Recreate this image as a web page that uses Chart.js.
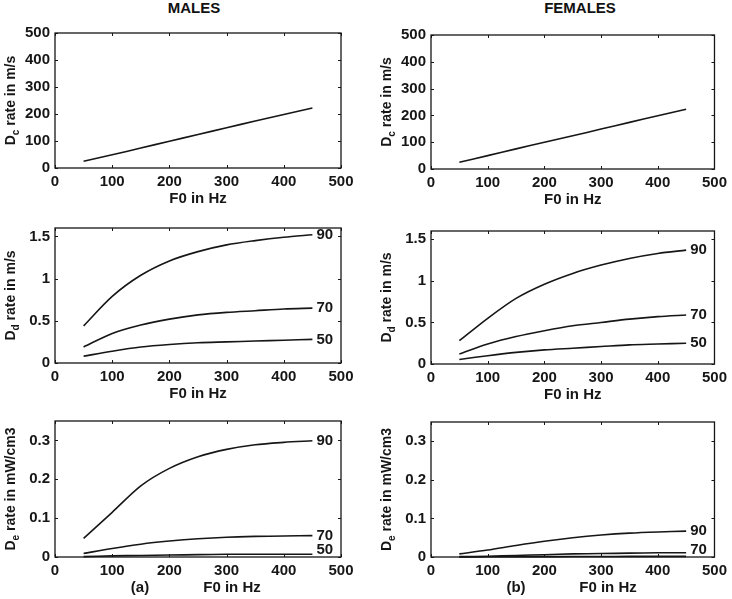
<!DOCTYPE html>
<html>
<head>
<meta charset="utf-8">
<script src="https://cdn.jsdelivr.net/npm/chart.js@4.4.1/dist/chart.umd.min.js"></script>
<style>
  html,body{margin:0;padding:0;background:#fff;}
  #wrap{position:relative;width:732px;height:599px;overflow:hidden;background:#fff;}
  canvas{position:absolute;left:0;top:0;}
  .hdr{position:absolute;top:0;font:bold 15px "Liberation Sans",Arial,sans-serif;color:#111;transform:translateX(-50%);white-space:nowrap;line-height:16px;}
</style>
</head>
<body>
<div id="wrap">
  <div class="hdr" style="left:194px">MALES</div>
  <div class="hdr" style="left:580px">FEMALES</div>
</div>
<script>
// ---------- data ----------
const F0 = [50, 100, 150, 200, 250, 300, 350, 400, 450];
const xTicks = [0, 100, 200, 300, 400, 500];
const dcTicks = [0, 100, 200, 300, 400, 500];
const ddTicks = [0, 0.5, 1, 1.5];
const deTicks = [0, 0.1, 0.2, 0.3];
const curveLabels = ['90', '70', '50'];

const maleDc   = [25, 49, 74, 99, 124, 149, 174, 198, 222];
const femaleDc = [25, 50, 75, 100, 124, 149, 174, 199, 223];

const maleDd90 = [0.44, 0.79, 1.04, 1.21, 1.32, 1.40, 1.45, 1.49, 1.52];
const maleDd70 = [0.19, 0.35, 0.45, 0.52, 0.57, 0.60, 0.62, 0.64, 0.65];
const maleDd50 = [0.08, 0.14, 0.19, 0.22, 0.24, 0.25, 0.26, 0.27, 0.28];

const femaleDd90 = [0.28, 0.55, 0.79, 0.96, 1.09, 1.19, 1.27, 1.33, 1.37];
const femaleDd70 = [0.12, 0.24, 0.33, 0.40, 0.46, 0.50, 0.54, 0.57, 0.59];
const femaleDd50 = [0.055, 0.10, 0.14, 0.17, 0.19, 0.21, 0.23, 0.24, 0.25];

const maleDe90 = [0.048, 0.115, 0.183, 0.228, 0.258, 0.277, 0.289, 0.295, 0.299];
const maleDe70 = [0.009, 0.022, 0.033, 0.041, 0.047, 0.051, 0.053, 0.054, 0.055];
const maleDe50 = [0.001, 0.003, 0.004, 0.005, 0.006, 0.007, 0.007, 0.007, 0.007];

const femaleDe90 = [0.008, 0.018, 0.030, 0.041, 0.050, 0.057, 0.062, 0.065, 0.067];
const femaleDe70 = [0.001, 0.002, 0.004, 0.006, 0.008, 0.009, 0.010, 0.011, 0.011];
const femaleDe50 = [0.0003, 0.0005, 0.0008, 0.001, 0.0012, 0.0014, 0.0015, 0.0016, 0.0017];

// ---------- layout ----------
const W = 732, H = 599, Y_AXIS_W = 50, X_AXIS_H = 30;
const FONT = '"Liberation Sans", Arial, sans-serif';
const INK = '#161616';

const panels = [
  {rect:[55,33,341,168],  ymax:500,  yTicks:dcTicks, sub:'c', series:[maleDc], labels:[]},
  {rect:[431,35,718,169], ymax:500,  yTicks:dcTicks, sub:'c', series:[femaleDc], labels:[]},
  {rect:[55,228,341,363], ymax:1.6,  yTicks:ddTicks, sub:'d', series:[maleDd90, maleDd70, maleDd50], labels:curveLabels},
  {rect:[431,231,718,364],ymax:1.6,  yTicks:ddTicks, sub:'d', series:[femaleDd90, femaleDd70, femaleDd50], labels:curveLabels},
  {rect:[55,421,341,557], ymax:0.35, yTicks:deTicks, sub:'e', series:[maleDe90, maleDe70, maleDe50], labels:curveLabels, tag:'(a)'},
  {rect:[431,422,718,557],ymax:0.35, yTicks:deTicks, sub:'e', series:[femaleDe90, femaleDe70, femaleDe50], labels:['90','70'], tag:'(b)'}
];

const yUnits = {c:' rate in m/s', d:' rate in m/s', e:' rate in mW/cm3'};

const deco = {
  id: 'deco',
  afterDatasetsDraw(chart, args, o) {
    const {ctx, chartArea: a, scales: {x, y}} = chart;
    ctx.save();
    ctx.strokeStyle = INK; ctx.fillStyle = INK;
    // box
    ctx.lineWidth = 1.3;
    ctx.strokeRect(a.left, a.top, a.right - a.left, a.bottom - a.top);
    // inward ticks on all sides
    ctx.lineWidth = 1;
    ctx.beginPath();
    o.xTicks.forEach(v => {
      const px = Math.round(x.getPixelForValue(v)) + 0.5;
      ctx.moveTo(px, a.bottom); ctx.lineTo(px, a.bottom - 3);
      ctx.moveTo(px, a.top); ctx.lineTo(px, a.top + 3);
    });
    o.yTicks.forEach(v => {
      const py = Math.round(y.getPixelForValue(v)) + 0.5;
      ctx.moveTo(a.left, py); ctx.lineTo(a.left + 3, py);
      ctx.moveTo(a.right, py); ctx.lineTo(a.right - 3, py);
    });
    ctx.stroke();
    // curve labels
    ctx.font = 'bold 15px ' + FONT;
    ctx.textAlign = 'left'; ctx.textBaseline = 'middle';
    chart.data.datasets.forEach(ds => {
      if (!ds.label) return;
      const last = ds.data[ds.data.length - 1];
      const px = x.getPixelForValue(last.x) + 4;
      const py = Math.min(y.getPixelForValue(last.y), a.bottom - 7);
      ctx.fillText(ds.label, px, py);
    });
    // x title and tag
    ctx.textAlign = 'center';
    ctx.font = 'bold 15px ' + FONT;
    const xt = o.tag ? a.left + 177 : (a.left + a.right) / 2;
    ctx.fillText('F0 in Hz', xt, a.bottom + 31);
    if (o.tag) ctx.fillText(o.tag, a.left + 85, a.bottom + 31);
    // y title with subscript (rotated)
    const cx = a.left - 45, cy = (a.top + a.bottom) / 2;
    ctx.translate(cx, cy);
    ctx.rotate(-Math.PI / 2);
    const mainF = 'bold 14px ' + FONT, subF = 'bold 10px ' + FONT;
    ctx.font = mainF; const wD = ctx.measureText('D').width;
    const wRest = ctx.measureText(o.unit).width;
    ctx.font = subF; const wS = ctx.measureText(o.sub).width;
    const total = wD + wS + wRest;
    let sx = -total / 2;
    ctx.textAlign = 'left'; ctx.textBaseline = 'alphabetic';
    ctx.font = mainF; ctx.fillText('D', sx, 5); sx += wD;
    ctx.font = subF; ctx.fillText(o.sub, sx, 9); sx += wS;
    ctx.font = mainF; ctx.fillText(o.unit, sx, 5);
    ctx.restore();
  }
};

const wrap = document.getElementById('wrap');
panels.forEach(p => {
  const [L, T, R, B] = p.rect;
  const cv = document.createElement('canvas');
  cv.width = W; cv.height = H;
  cv.style.width = W + 'px'; cv.style.height = H + 'px';
  wrap.appendChild(cv);
  const datasets = p.series.map((s, i) => ({
    label: p.labels[i] || '',
    data: F0.map((f, j) => ({x: f, y: s[j]})),
    borderColor: INK, borderWidth: 1.6,
    pointRadius: 0, tension: 0.3, fill: false, clip: false
  }));
  new Chart(cv, {
    type: 'line',
    data: {datasets},
    options: {
      responsive: false, animation: false, devicePixelRatio: 1,
      layout: {padding: {left: L - Y_AXIS_W, top: T, right: W - R, bottom: H - B - X_AXIS_H}},
      plugins: {
        legend: {display: false}, tooltip: {enabled: false}, title: {display: false},
        deco: {xTicks, yTicks: p.yTicks, sub: p.sub, unit: yUnits[p.sub], tag: p.tag}
      },
      scales: {
        x: {
          type: 'linear', min: 0, max: 500,
          afterBuildTicks: s => { s.ticks = xTicks.map(v => ({value: v})); },
          afterFit: s => { s.height = X_AXIS_H; },
          grid: {display: false, drawTicks: false},
          border: {display: false},
          ticks: {color: INK, padding: 5, maxRotation: 0, autoSkip: false,
                  font: {family: FONT, size: 15, weight: 'bold'},
                  callback: v => String(v)}
        },
        y: {
          type: 'linear', min: 0, max: p.ymax,
          afterBuildTicks: s => { s.ticks = p.yTicks.map(v => ({value: v})); },
          afterFit: s => { s.width = Y_AXIS_W; },
          grid: {display: false, drawTicks: false},
          border: {display: false},
          ticks: {color: INK, padding: 5, autoSkip: false,
                  font: {family: FONT, size: 15, weight: 'bold'},
                  callback: v => String(v)}
        }
      }
    },
    plugins: [deco]
  });
});
</script>
</body>
</html>
